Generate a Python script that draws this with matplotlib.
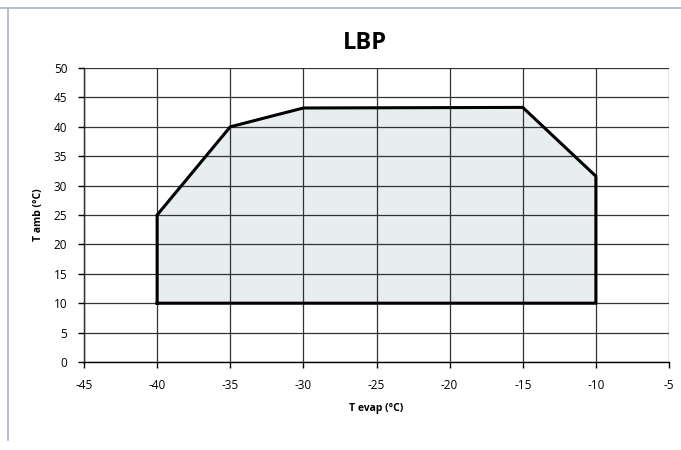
import matplotlib.pyplot as plt
from matplotlib.lines import Line2D

plt.rcParams['font.family'] = ['Open Sans', 'DejaVu Sans']
plt.rcParams['axes.unicode_minus'] = False

# envelope corners (T evap, T amb)
t_evap = [-40, -40, -35, -30, -15, -10, -10]
t_amb = [10, 25, 40, 43.2, 43.3, 31.6, 10]

x_ticks = [-45, -40, -35, -30, -25, -20, -15, -10, -5]
y_ticks = [0, 5, 10, 15, 20, 25, 30, 35, 40, 45, 50]

fig = plt.figure(figsize=(6.81, 4.5), dpi=100)

# frame lines of the page
fig.add_artist(Line2D([0, 1], [1 - 8 / 450, 1 - 8 / 450], color='#a8b4c2', lw=1.2))
fig.add_artist(Line2D([8 / 681, 8 / 681], [1 - 8 / 450, 1 - 440 / 450], color='#a8b4c2', lw=1.2))

ax = fig.add_axes([84 / 681, 1 - 362 / 450, (669 - 84) / 681, (362 - 68) / 450])
ax.fill(t_evap, t_amb, facecolor='#e8edf0', edgecolor='none', zorder=1)
ax.plot(t_evap + [t_evap[0]], t_amb + [t_amb[0]], color='black', lw=2.2, zorder=3,
        solid_joinstyle='miter')

ax.set_xlim(-45, -5)
ax.set_ylim(0, 50)
ax.set_xticks(x_ticks)
ax.set_yticks(y_ticks)
ax.grid(True, color='#333333', lw=0.9, zorder=2)
ax.set_axisbelow(False)
for s in ['top', 'right']:
    ax.spines[s].set_visible(False)
for s in ['left', 'bottom']:
    ax.spines[s].set_color('black')
    ax.spines[s].set_linewidth(1.0)
ax.tick_params(axis='both', direction='out', length=4, width=1, labelsize=8.5, pad=8)

ax.set_xlabel('T evap (°C)', fontsize=7.5, fontweight='bold', labelpad=8)
ax.set_ylabel('T amb (°C)', fontsize=7.5, fontweight='bold', labelpad=7)
fig.text(365 / 681, 1 - 43 / 450, 'LBP', fontsize=17, fontweight='bold', ha='center', va='center')

fig.savefig('out.png', dpi=100)
